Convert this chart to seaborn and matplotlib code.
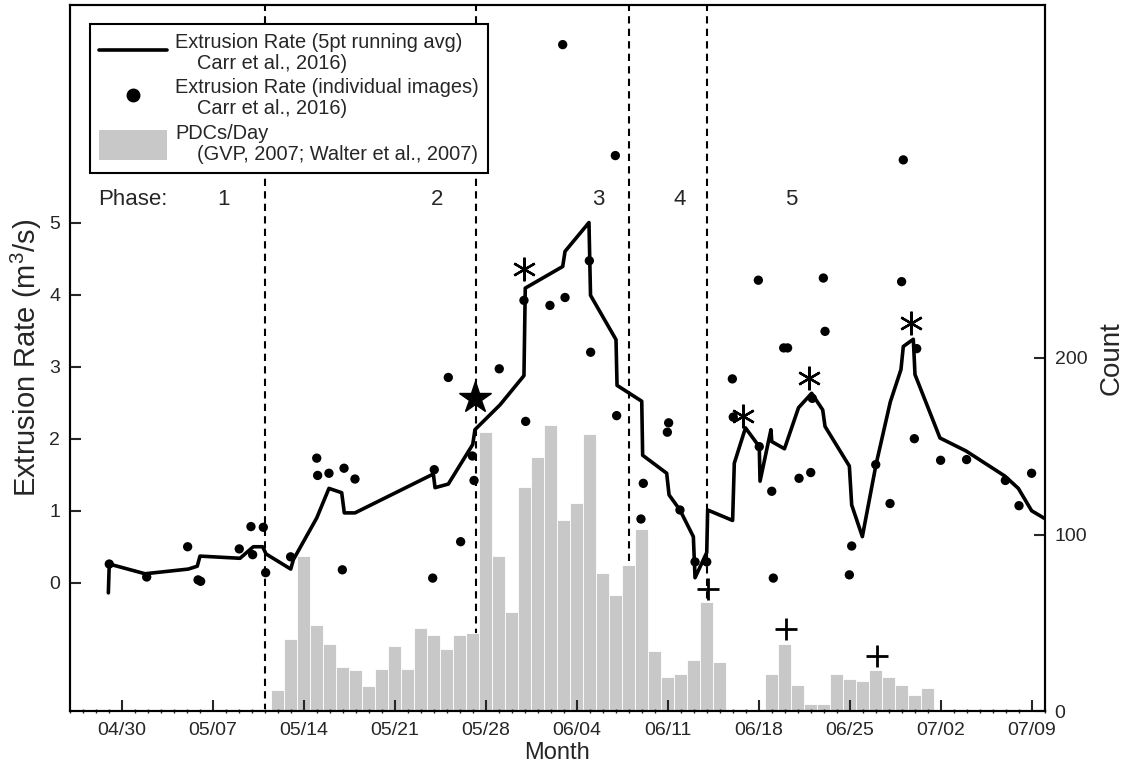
import numpy as np
import pandas as pd
import matplotlib
matplotlib.use("Agg")
import matplotlib.pyplot as plt
import matplotlib.dates as mdates
from matplotlib.lines import Line2D
from matplotlib.patches import Patch
import seaborn as sns

# Day offsets below are counted from this date
START = pd.Timestamp("2006-04-30")

# Pyroclastic density currents per day (right axis)
pdc_dates = pd.date_range("2006-05-11", "2006-07-01", freq="D")
pdc_counts = [1, 12, 41, 88, 49, 38, 25, 23, 14, 24, 37, 24, 47, 43, 35, 43, 44,
              158, 88, 56, 127, 144, 162, 108, 118, 157, 78, 66, 83, 103, 34, 19, 21, 29, 62, 28,
              0, 0, 0, 21, 38, 15, 4, 4, 21, 18, 17, 23, 19, 15, 9, 13]

# Extrusion rate, 5-point running average (days after START, m3/s)
avg_day = [-1.05, -0.98, 1.77, 5.10, 5.79, 6.00, 9.08, 10.10, 10.82, 11.08, 12.98, 13.18,
           14.98, 15.92, 16.90, 17.10, 17.92, 23.95, 24.08, 25.10, 26.98, 27.15, 29.08,
           30.92, 31.02, 33.90, 34.08, 35.92, 36.04, 38.00, 38.08, 39.98, 40.05, 41.90,
           42.08, 42.92, 43.95, 44.08, 44.98, 45.05, 46.97, 47.10, 47.96, 49.02, 49.08,
           49.92, 49.98, 50.96, 52.04, 53.05, 53.90, 54.08, 55.95, 56.13, 56.95, 58.00,
           59.10, 59.92, 60.10, 60.87, 61.00, 62.92, 64.92, 67.92, 68.95, 69.97, 71.13]
avg_rate = [-0.14, 0.26, 0.125, 0.19, 0.23, 0.37, 0.34, 0.50, 0.50, 0.40, 0.19, 0.32,
            0.90, 1.31, 1.25, 0.97, 0.97, 1.51, 1.32, 1.37, 1.92, 2.125, 2.47,
            2.875, 4.09, 4.39, 4.60, 5.00, 3.99, 3.375, 2.74, 2.52, 1.77, 1.52,
            1.22, 1.01, 0.64, 0.07, 0.42, 1.01, 0.865, 1.66, 2.15, 1.89, 1.41,
            2.125, 1.96, 1.86, 2.43, 2.63, 2.40, 2.17, 1.62, 1.08, 0.64, 1.64,
            2.51, 2.96, 3.28, 3.38, 2.89, 2.01, 1.83, 1.48, 1.31, 1.00, 0.875]

# Extrusion rate from individual images
img_day = [-0.98, 1.90, 5.05, 5.85, 6.05, 9.02, 9.92, 10.05, 10.87, 11.05, 12.97, 14.98,
           15.05, 15.92, 16.95, 17.08, 17.92, 23.90, 24.02, 25.10, 26.05, 26.95, 27.08,
           29.02, 30.92, 31.05, 32.92, 33.90, 34.08, 35.95, 36.05, 37.95, 38.05, 39.92,
           40.10, 41.95, 42.05, 42.92, 44.08, 44.98, 46.95, 47.02, 48.95, 49.02, 49.98,
           50.10, 50.90, 51.20, 52.08, 52.98, 53.10, 53.95, 54.08, 55.95, 56.13, 57.98,
           59.08, 59.97, 60.10, 60.95, 61.13, 62.97, 64.97, 67.95, 69.00, 69.97]
img_rate = [0.26, 0.08, 0.50, 0.04, 0.02, 0.47, 0.78, 0.39, 0.77, 0.14, 0.36, 1.73,
            1.49, 1.52, 0.18, 1.59, 1.44, 0.065, 1.57, 2.85, 0.57, 1.76, 1.42,
            2.97, 3.92, 2.24, 3.85, 7.47, 3.96, 4.47, 3.20, 5.93, 2.32, 0.885,
            1.38, 2.09, 2.22, 1.01, 0.29, 0.29, 2.83, 2.30, 4.20, 1.89, 1.27,
            0.065, 3.26, 3.26, 1.45, 1.53, 2.56, 4.23, 3.49, 0.11, 0.51, 1.64,
            1.10, 4.18, 5.87, 2.00, 3.25, 1.70, 1.71, 1.42, 1.07, 1.52]

# Annotation symbols (days after START, left-axis value)
star_day, star_rate = [27.15], [2.57]
asterisk_day = [30.92, 47.80, 52.87, 60.70]
asterisk_rate = [4.35, 2.31, 2.84, 3.61]
plus_day = [45.05, 51.08, 58.05]
plus_rate = [-0.09, -0.64, -1.01]

# Phase boundaries
phase_bounds = ["2006-05-11", "2006-05-27 06:00", "2006-06-08", "2006-06-14"]
phase_labels = ["Phase:", "1", "2", "3", "4", "5"]

legend_labels = ["Extrusion Rate (5pt running avg)\n    Carr et al., 2016)",
                 "Extrusion Rate (individual images)\n    Carr et al., 2016)",
                 "PDCs/Day\n    (GVP, 2007; Walter et al., 2007)"]


def to_date(days):
    return START + pd.to_timedelta(np.asarray(days, dtype=float), unit="D")


sns.set_theme(style="ticks")
plt.rcParams["font.family"] = ["Liberation Sans", "DejaVu Sans"]
plt.rcParams["axes.linewidth"] = 1.5

BAR_GREY = "#c8c8c8"

fig = plt.figure(figsize=(11.28, 7.70), dpi=100)
ax = fig.add_axes([70 / 1128, 1 - 711 / 770, 975 / 1128, 706 / 770])
ax2 = ax.twinx()
ax.set_zorder(ax2.get_zorder() + 1)
ax.patch.set_visible(False)

# phase boundaries sit underneath the bars
for b in phase_bounds:
    ax2.axvline(pd.Timestamp(b), color="black", lw=1.5, ls=(0, (3.5, 2.5)), zorder=0)
ax2.bar(pdc_dates, pdc_counts, width=1.0, color=BAR_GREY, edgecolor="white",
        linewidth=0.6, zorder=1)

avg_df = pd.DataFrame({"date": to_date(avg_day), "rate": avg_rate})
img_df = pd.DataFrame({"date": to_date(img_day), "rate": img_rate})

sns.lineplot(data=avg_df, x="date", y="rate", ax=ax, color="black", lw=2.6,
             sort=False, estimator=None, legend=False, zorder=3)
sns.scatterplot(data=img_df, x="date", y="rate", ax=ax, color="black", s=45,
                edgecolor="none", legend=False, zorder=4)

ax.plot(to_date(star_day), star_rate, ls="none", marker="*", ms=24, color="black", zorder=5)
ax.plot(to_date(asterisk_day), asterisk_rate, ls="none", marker=(6, 2, 0), ms=17,
        mew=1.7, color="black", zorder=5)
ax.plot(to_date(plus_day), plus_rate, ls="none", marker="+", ms=16, mew=2,
        color="black", zorder=5)

phase_x = [0.85, 7.77, 24.23, 36.6, 42.9, 51.5]
for lab, px in zip(phase_labels, phase_x):
    ax.text(to_date([px])[0], 5.32, lab, ha="center", va="center", fontsize=16)

# axes, ticks and limits
ax.set_xlim(to_date([-4])[0], to_date([71])[0])
ax.set_ylim(-1.78, 8.02)
ax2.set_ylim(0, 400)
ax.set_yticks(range(6))
ax2.set_yticks([0, 100, 200])
ax.set_xticks(pd.date_range("2006-04-30", "2006-07-09", freq="7D"))
ax.xaxis.set_major_formatter(mdates.DateFormatter("%m/%d"))
ax.xaxis.set_minor_locator(mdates.DayLocator())

ax.tick_params(axis="x", which="major", direction="in", length=8, width=1.5,
               labelsize=14, pad=8, top=False)
ax.tick_params(axis="x", which="minor", direction="inout", length=3, width=1, top=False)
ax.tick_params(axis="y", direction="in", length=8, width=1.5, labelsize=14, pad=7)
ax2.tick_params(axis="y", direction="in", length=8, width=1.5, labelsize=14, pad=7)

for a in (ax, ax2):
    for sp in a.spines.values():
        sp.set_linewidth(1.5)
        sp.set_color("black")

ax.set_xlabel("Month", fontsize=17, labelpad=2)
ax.set_ylabel(r"Extrusion Rate (m$^\mathregular{3}$/s)", fontsize=21, labelpad=4)
ax2.set_ylabel("Count", fontsize=20, labelpad=8)

handles = [Line2D([], [], color="black", lw=2.6),
           Line2D([], [], ls="none", marker="o", color="black", ms=9),
           Patch(facecolor=BAR_GREY, edgecolor="none")]
leg = ax.legend(handles, legend_labels, loc="upper left",
                bbox_to_anchor=(20 / 975, (711 - 24) / 706), frameon=True,
                fancybox=False, edgecolor="black", framealpha=1, fontsize=14.4,
                handlelength=3.4, handleheight=1.9, labelspacing=0.28, borderpad=0.45,
                handletextpad=0.4, borderaxespad=0)
leg.get_frame().set_linewidth(1.5)
for t in leg.get_texts():
    t.set_linespacing(1.12)

fig.savefig("out.png", dpi=100)
